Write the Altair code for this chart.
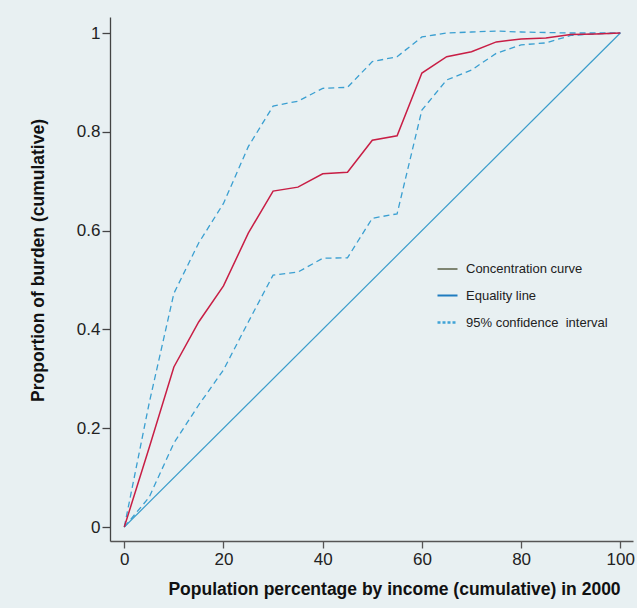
import altair as alt
import pandas as pd
import numpy as np

# ---- data ----
pop = [0, 5, 10, 15, 20, 25, 30, 35, 40, 45, 50, 55, 60, 65, 70, 75, 80, 85, 90, 95, 100]
conc = [0, 0.16, 0.324, 0.415, 0.488, 0.595, 0.680, 0.688, 0.715, 0.718, 0.783, 0.792,
        0.919, 0.952, 0.962, 0.982, 0.988, 0.990, 0.997, 0.998, 1.0]
upper = [0, 0.25, 0.473, 0.575, 0.655, 0.770, 0.852, 0.862, 0.888, 0.890, 0.942, 0.952,
         0.992, 1.000, 1.002, 1.004, 1.002, 1.001, 1.0, 1.0, 1.0]
lower = [0, 0.06, 0.17, 0.247, 0.318, 0.415, 0.510, 0.516, 0.544, 0.545, 0.625, 0.634,
         0.844, 0.905, 0.925, 0.959, 0.976, 0.980, 0.995, 0.998, 1.0]
eq_x = [0, 100]
eq_y = [0, 1]

legend_labels = ["Concentration curve", "Equality line", "95% confidence\u00a0 interval"]
legend_colors = ["#5b6148", "#1f7cc0", "#3fa3d6"]
legend_dash = [[1, 0], [1, 0], [3, 2]]
legend_width = [1.5, 2.5, 1.0]

FONT = "Liberation Sans"

conc_df = pd.DataFrame({"x": pop, "y": conc})
ci_df = pd.concat([
    pd.DataFrame({"x": pop, "y": upper, "bound": "upper"}),
    pd.DataFrame({"x": pop, "y": lower, "bound": "lower"}),
])
eq_df = pd.DataFrame({"x": eq_x, "y": eq_y})
leg_df = pd.DataFrame({"x": [np.nan] * 3, "y": [np.nan] * 3, "series": legend_labels})

xscale = alt.Scale(domain=[-2.88, 102.56], nice=False, zero=False)
yscale = alt.Scale(domain=[-0.0283, 1.0324], nice=False, zero=False)

xaxis = alt.Axis(
    title="Population percentage by income (cumulative) in 2000",
    values=[0, 20, 40, 60, 80, 100], format="d", grid=False,
    tickSize=7, labelPadding=3, labelFontSize=17, labelFont=FONT, labelColor="#222",
    titleFont=FONT, titleFontSize=17.5, titleFontWeight="bold", titleColor="#111",
    titleX=284, titleY=53, titleAlign="center", titleBaseline="alphabetic",
    domainColor="#555", domainWidth=1.3, tickColor="#555", tickWidth=1.3,
)
yaxis = alt.Axis(
    title="Proportion of burden (cumulative)",
    values=[0, 0.2, 0.4, 0.6, 0.8, 1.0], format="~g", grid=False,
    tickSize=8, labelPadding=2, labelFontSize=17, labelFont=FONT, labelColor="#222",
    titleFont=FONT, titleFontSize=17.5, titleFontWeight="bold", titleColor="#111",
    titleX=-72, titleY=243, titleAlign="center", titleBaseline="middle", titleAngle=270,
    domainColor="#444", domainWidth=1.3, tickColor="#444", tickWidth=1.3,
)

x_enc = alt.X("x:Q", scale=xscale, axis=xaxis)
y_enc = alt.Y("y:Q", scale=yscale, axis=yaxis)

eq_line = alt.Chart(eq_df).mark_line(color="#3b9dcb", strokeWidth=1.2).encode(x=x_enc, y=y_enc)

ci_lines = alt.Chart(ci_df).mark_line(color="#3a9fd1", strokeWidth=1.3, strokeDash=[6, 4]).encode(
    x=x_enc, y=y_enc, detail="bound:N"
)

conc_line = alt.Chart(conc_df).mark_line(color="#c81e45", strokeWidth=1.5).encode(x=x_enc, y=y_enc)

legend = alt.Legend(
    title=None, orient="none", legendX=326, legendY=241, padding=0,
    symbolType="stroke", symbolSize=400, rowPadding=8.5, labelOffset=7,
    labelFont=FONT, labelFontSize=13, labelColor="#222", labelLimit=300,
)

leg_layer = alt.Chart(leg_df).mark_line().encode(
    x=alt.X("x:Q", scale=xscale, axis=xaxis),
    y=alt.Y("y:Q", scale=yscale, axis=yaxis),
    color=alt.Color("series:N", scale=alt.Scale(domain=legend_labels, range=legend_colors), legend=legend),
    strokeDash=alt.StrokeDash("series:N", scale=alt.Scale(domain=legend_labels, range=legend_dash), legend=legend),
    strokeWidth=alt.StrokeWidth("series:N", scale=alt.Scale(domain=legend_labels, range=legend_width), legend=legend),
)

chart = alt.layer(eq_line, ci_lines, conc_line, leg_layer).properties(
    width=523, height=524,
    autosize="none",
    padding={"left": 110, "top": 17, "right": 4, "bottom": 67},
    background="#e8f0f2",
).configure_view(stroke=None)

chart.save("out.html", embed_options={"renderer": "svg", "actions": False})
